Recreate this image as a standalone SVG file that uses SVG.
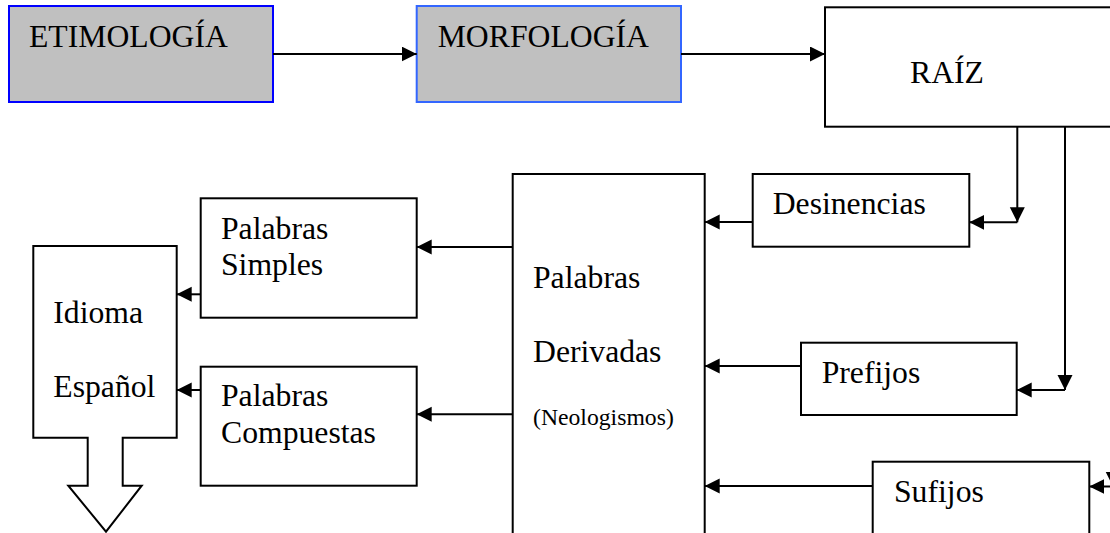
<svg xmlns="http://www.w3.org/2000/svg" width="1110" height="533" viewBox="0 0 1110 533">
<style>
.box{fill:#fff;stroke:#000;stroke-width:2}
.grey{fill:#c0c0c0;stroke-width:2}
.c{fill:none;stroke:#000;stroke-width:2;marker-end:url(#ah)}
</style>
<defs>
<marker id="ah" markerUnits="userSpaceOnUse" markerWidth="16" markerHeight="16" refX="15" refY="7.5" orient="auto">
<path d="M0,0 L15,7.5 L0,15 z" fill="#000"/>
</marker>
</defs>
<rect width="1110" height="533" fill="#fff"/>
<g font-family="Liberation Serif, Times New Roman, serif" font-size="31.7" fill="#000">
<g id="etimologia">
<rect class="grey" x="9" y="6" width="264" height="96" stroke="#0000ff"/>
<text x="29" y="47">ETIMOLOGÍA</text>
</g>
<g id="morfologia">
<rect class="grey" x="416.7" y="6" width="264.3" height="96" stroke="#3366ff"/>
<text x="437.7" y="47">MORFOLOGÍA</text>
</g>
<g id="raiz">
<rect class="box" x="825" y="7.3" width="300" height="119.4"/>
<text x="910" y="83.3">RAÍZ</text>
</g>
<g id="desinencias">
<rect class="box" x="752.7" y="174" width="216.6" height="72.7"/>
<text x="772.7" y="214">Desinencias</text>
</g>
<g id="prefijos">
<rect class="box" x="801" y="342.7" width="215.7" height="72.3"/>
<text x="821.7" y="382.7">Prefijos</text>
</g>
<g id="sufijos">
<rect class="box" x="872.7" y="461.7" width="216.6" height="90"/>
<text x="894" y="501.7">Sufijos</text>
</g>
<g id="derivadas">
<rect class="box" x="512.7" y="174" width="192" height="380"/>
<text x="533" y="288">Palabras</text>
<text x="533" y="361.7">Derivadas</text>
<text x="533" y="425" font-size="23.7">(Neologismos)</text>
</g>
<g id="simples">
<rect class="box" x="200.7" y="198.3" width="216" height="119.4"/>
<text x="221" y="239">Palabras</text>
<text x="221" y="274.5">Simples</text>
</g>
<g id="compuestas">
<rect class="box" x="200.7" y="366.7" width="216" height="119"/>
<text x="221" y="406">Palabras</text>
<text x="221" y="443.3">Compuestas</text>
</g>
<g id="idioma">
<polygon class="box" points="33.3,246 176.7,246 176.7,437.7 122.7,437.7 122.7,485.7 141.7,485.7 106,531.7 68.3,485.7 87.7,485.7 87.7,437.7 33.3,437.7"/>
<text x="53.3" y="323.3">Idioma</text>
<text x="53.3" y="396.7">Español</text>
</g>
</g>
<g id="connectors">
<path class="c" d="M273,54 H416.7"/>
<path class="c" d="M681,54 H825"/>
<path class="c" d="M1017.3,126.7 V222.3"/>
<path class="c" d="M1017.3,222.3 H969.3"/>
<path class="c" d="M1065,126.7 V390"/>
<path class="c" d="M1065,390 H1016.7"/>
<path class="c" d="M1113,126.7 V486.5"/>
<path class="c" d="M1113,486.5 H1089.3"/>
<path class="c" d="M752.7,222 H704.7"/>
<path class="c" d="M801,366 H704.7"/>
<path class="c" d="M872.7,486 H704.7"/>
<path class="c" d="M512.7,247 H416.7"/>
<path class="c" d="M512.7,414.3 H416.7"/>
<path class="c" d="M200.7,294.3 H176.7"/>
<path class="c" d="M200.7,390 H176.7"/>
</g>
</svg>
